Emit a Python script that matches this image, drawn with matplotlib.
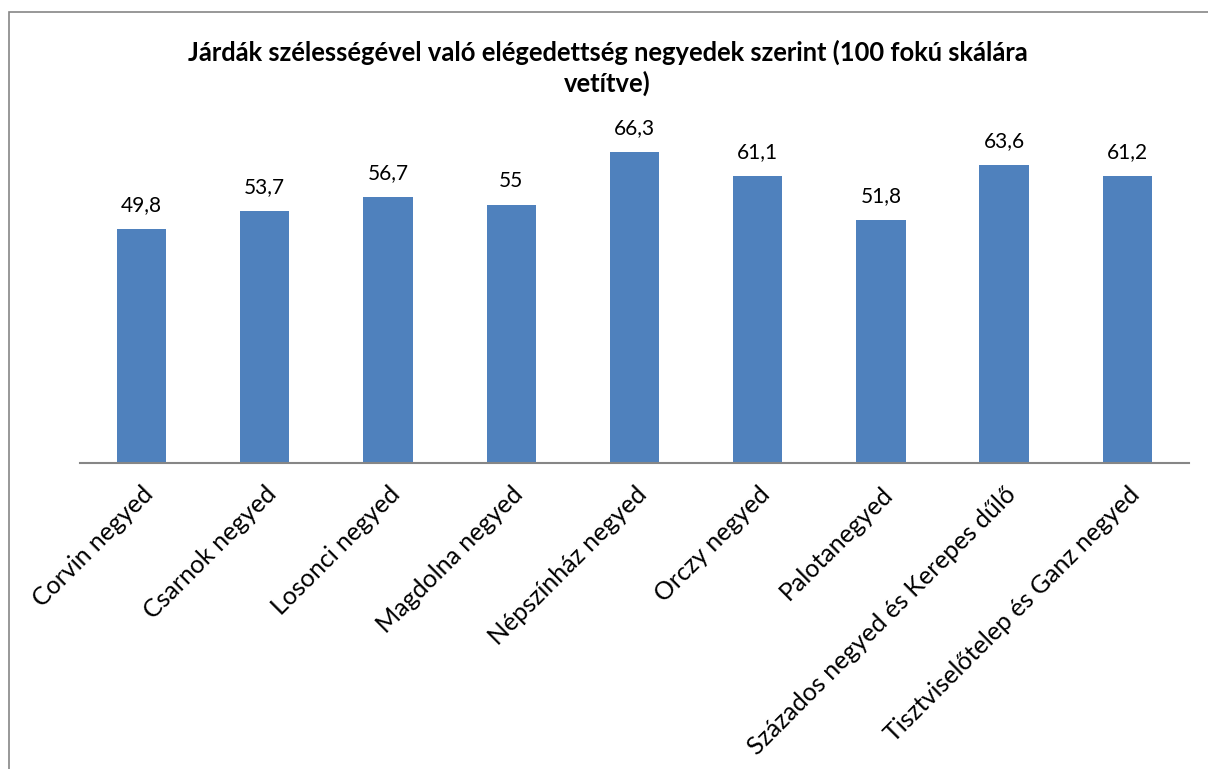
import numpy as np
import matplotlib
matplotlib.use('Agg')
import matplotlib.pyplot as plt
from matplotlib.patches import Rectangle

plt.rcParams['font.family'] = ['Lato', 'DejaVu Sans']

categories = [
    'Corvin negyed',
    'Csarnok negyed',
    'Losonci negyed',
    'Magdolna negyed',
    'Népszínház negyed',
    'Orczy negyed',
    'Palotanegyed',
    'Százados negyed és Kerepes dűlő',
    'Tisztviselőtelep és Ganz negyed',
]
values = [49.8, 53.7, 56.7, 55, 66.3, 61.1, 51.8, 63.6, 61.2]
value_labels = ['49,8', '53,7', '56,7', '55', '66,3', '61,1', '51,8', '63,6', '61,2']

title = 'Járdák szélességével való elégedettség negyedek szerint (100 fokú skálára\nvetítve)'

fig = plt.figure(figsize=(12.08, 7.69), dpi=100)
ax = fig.add_axes([0.0662, 0.398, 0.918, 0.427])

x = np.arange(len(categories))
bars = ax.bar(x, values, width=0.4, color='#4F81BD', zorder=2)

for xi, v, lab in zip(x, values, value_labels):
    ax.annotate(lab, (xi, v), xytext=(0, 10), textcoords='offset points',
                ha='center', va='bottom', fontsize=15, color='black')

ax.set_xlim(-0.5, len(categories) - 0.5)
ax.set_ylim(0, 70)
ax.set_yticks([])
ax.set_xticks(x)
ax.set_xticklabels(categories, rotation=45, ha='right', va='top',
                   rotation_mode='anchor', fontsize=18)
ax.tick_params(axis='x', length=0, pad=14)

for side in ['top', 'right', 'left']:
    ax.spines[side].set_visible(False)
ax.spines['bottom'].set_color('#868686')
ax.spines['bottom'].set_linewidth(1.5)

fig.text(0.503, 0.948, title, ha='center', va='top', fontsize=18.4,
         fontweight='bold', linespacing=1.25)

# chart border
fig.patches.append(Rectangle((9 / 1208, -0.1), 1.2, 1 - 12 / 769 + 0.1,
                             transform=fig.transFigure, fill=False,
                             edgecolor='#868686', linewidth=1.2))

fig.savefig('out.png', dpi=100)
